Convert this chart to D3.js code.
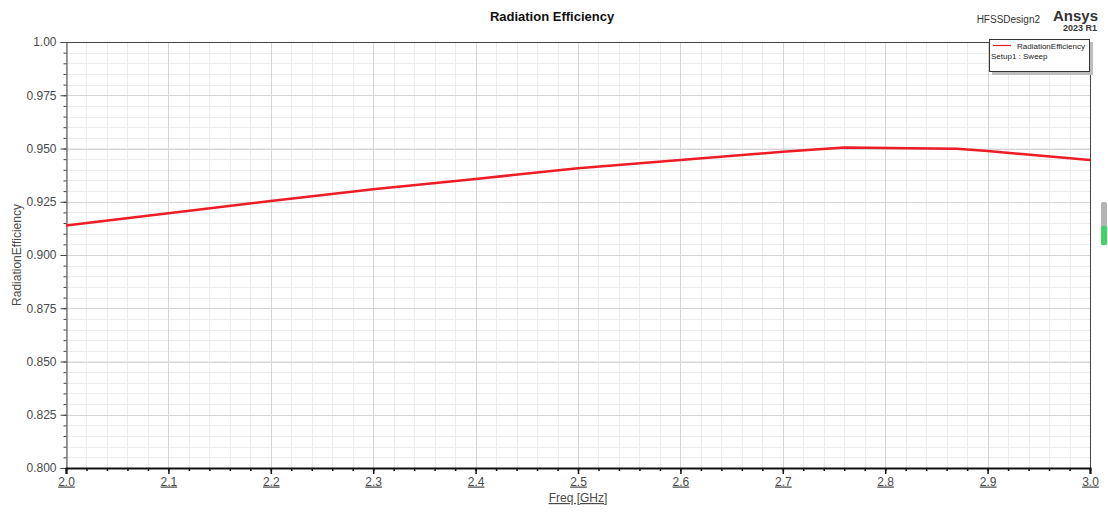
<!DOCTYPE html>
<html>
<head>
<meta charset="utf-8">
<title>Radiation Efficiency</title>
<script src="https://cdn.jsdelivr.net/npm/d3@7"></script>
<style>
	body { margin: 0; background: #ffffff; }
	text { font-family: "Liberation Sans", Arial, sans-serif; }
</style>
</head>
<body>
<div id="chart"></div>
<script>
//------------------------------------------------------------------------------
// Data
//------------------------------------------------------------------------------

var freq_ghz = [2.0, 2.1, 2.2, 2.3, 2.4, 2.5, 2.6, 2.7, 2.76, 2.87, 2.9, 3.0];
var rad_eff  = [0.9138, 0.9196, 0.9254, 0.9309, 0.9357, 0.9407, 0.9446, 0.9485, 0.9505, 0.9499, 0.9488, 0.9446];

var x_ticks = [2.0, 2.1, 2.2, 2.3, 2.4, 2.5, 2.6, 2.7, 2.8, 2.9, 3.0];
var y_ticks = [0.800, 0.825, 0.850, 0.875, 0.900, 0.925, 0.950, 0.975, 1.00];
var y_tick_labels = ["0.800", "0.825", "0.850", "0.875", "0.900", "0.925", "0.950", "0.975", "1.00"];

var series_name = "RadiationEfficiency";
var setup_name = "Setup1 : Sweep";


//------------------------------------------------------------------------------
// Plotting
//------------------------------------------------------------------------------

function plot_chart() {
	var width = 1108, height = 512;
	var left = 66, right = 1090, top = 42, bottom = 468;

	var svg = d3.select("#chart")
		.append("svg")
		.attr("width", width)
		.attr("height", height);

	svg.append("rect")
		.attr("width", width)
		.attr("height", height)
		.attr("fill", "#ffffff");

	var xscale = d3.scaleLinear().domain([2.0, 3.0]).range([left, right]);
	var yscale = d3.scaleLinear().domain([0.8, 1.0]).range([bottom, top]);

	// minor / major grid
	var x_minor = d3.range(0, 51).map(function(i) { return 2.0 + i * 0.02; });
	var y_minor = d3.range(0, 41).map(function(i) { return 0.8 + i * 0.005; });

	var grid = svg.append("g");
	grid.selectAll(".xm").data(x_minor).enter().append("line")
		.attr("x1", function(d) { return Math.round(xscale(d)) + 0.5; })
		.attr("x2", function(d) { return Math.round(xscale(d)) + 0.5; })
		.attr("y1", top).attr("y2", bottom)
		.attr("stroke", "#ececec");
	grid.selectAll(".ym").data(y_minor).enter().append("line")
		.attr("y1", function(d) { return Math.round(yscale(d)) + 0.5; })
		.attr("y2", function(d) { return Math.round(yscale(d)) + 0.5; })
		.attr("x1", left).attr("x2", right)
		.attr("stroke", "#ececec");
	grid.selectAll(".xM").data(x_ticks).enter().append("line")
		.attr("x1", function(d) { return Math.round(xscale(d)) + 0.5; })
		.attr("x2", function(d) { return Math.round(xscale(d)) + 0.5; })
		.attr("y1", top).attr("y2", bottom)
		.attr("stroke", "#d6d6d6");
	grid.selectAll(".yM").data(y_ticks).enter().append("line")
		.attr("y1", function(d) { return Math.round(yscale(d)) + 0.5; })
		.attr("y2", function(d) { return Math.round(yscale(d)) + 0.5; })
		.attr("x1", left).attr("x2", right)
		.attr("stroke", "#d6d6d6");

	// frame
	svg.append("line").attr("x1", left).attr("x2", right + 1)
		.attr("y1", top + 0.5).attr("y2", top + 0.5).attr("stroke", "#444");
	svg.append("line").attr("x1", right + 0.5).attr("x2", right + 0.5)
		.attr("y1", top).attr("y2", bottom).attr("stroke", "#444");

	// y axis
	var y_axis = d3.axisLeft(yscale)
		.tickValues(y_ticks)
		.tickFormat(function(d, i) { return y_tick_labels[i]; })
		.tickSize(6)
		.tickPadding(4);
	var gy = svg.append("g")
		.attr("transform", "translate(" + (left + 0.5) + ",0)")
		.call(y_axis);
	gy.select(".domain").attr("stroke", "#444");
	gy.selectAll(".tick line").attr("stroke", "#444");
	gy.selectAll(".tick text")
		.attr("fill", "#4a4a4a")
		.style("font-size", "12px")
		.style("font-family", "'Liberation Sans', Arial, sans-serif");
	var y_minor_axis = d3.axisLeft(yscale).tickValues(y_minor).tickSize(3).tickFormat("");
	var gym = svg.append("g")
		.attr("transform", "translate(" + (left + 0.5) + ",0)")
		.call(y_minor_axis);
	gym.select(".domain").remove();
	gym.selectAll(".tick line").attr("stroke", "#444");

	// x axis
	var x_axis = d3.axisBottom(xscale)
		.tickValues(x_ticks)
		.tickFormat(d3.format(".1f"))
		.tickSize(6)
		.tickPadding(3);
	var gx = svg.append("g")
		.attr("transform", "translate(0," + bottom + ")")
		.call(x_axis);
	gx.select(".domain").attr("stroke", "#111").attr("stroke-width", 2);
	gx.selectAll(".tick line").attr("stroke", "#111").attr("stroke-width", 1.5);
	gx.selectAll(".tick text")
		.attr("fill", "#4a4a4a")
		.style("font-size", "12px")
		.style("text-decoration", "underline")
		.style("font-family", "'Liberation Sans', Arial, sans-serif");
	var x_minor_axis = d3.axisBottom(xscale).tickValues(x_minor).tickSize(3).tickFormat("");
	var gxm = svg.append("g")
		.attr("transform", "translate(0," + bottom + ")")
		.call(x_minor_axis);
	gxm.select(".domain").remove();
	gxm.selectAll(".tick line").attr("stroke", "#111").attr("stroke-width", 1.5);

	// curve
	var line = d3.line()
		.x(function(d, i) { return xscale(freq_ghz[i]); })
		.y(function(d) { return yscale(d); });
	svg.append("path")
		.datum(rad_eff)
		.attr("d", line)
		.attr("fill", "none")
		.attr("stroke", "#ee1c25")
		.attr("stroke-width", 2.5)
		.attr("stroke-linejoin", "round");

	// titles
	svg.append("text")
		.attr("x", 552).attr("y", 21)
		.attr("text-anchor", "middle")
		.attr("fill", "#111")
		.style("font-size", "13px")
		.style("font-weight", "bold")
		.text("Radiation Efficiency");

	svg.append("text")
		.attr("x", 578).attr("y", 502)
		.attr("text-anchor", "middle")
		.attr("fill", "#4a4a4a")
		.style("font-size", "12px")
		.style("text-decoration", "underline")
		.text("Freq [GHz]");

	svg.append("text")
		.attr("transform", "translate(21," + ((top + bottom) / 2) + ") rotate(-90)")
		.attr("text-anchor", "middle")
		.attr("fill", "#4a4a4a")
		.style("font-size", "12px")
		.text(series_name);

	// branding
	svg.append("text")
		.attr("x", 1040).attr("y", 23)
		.attr("text-anchor", "end")
		.attr("fill", "#333")
		.style("font-size", "10px")
		.text("HFSSDesign2");
	svg.append("text")
		.attr("x", 1098).attr("y", 21)
		.attr("text-anchor", "end")
		.attr("fill", "#333")
		.style("font-size", "15px")
		.style("font-weight", "bold")
		.text("Ansys");
	svg.append("text")
		.attr("x", 1097).attr("y", 31)
		.attr("text-anchor", "end")
		.attr("fill", "#333")
		.style("font-size", "9px")
		.style("font-weight", "bold")
		.text("2023 R1");

	// legend
	var lg = svg.append("g").attr("transform", "translate(989,39)");
	lg.append("rect").attr("x", 3).attr("y", 3).attr("width", 101).attr("height", 33)
		.attr("fill", "#bdbdbd");
	lg.append("rect").attr("x", 0.5).attr("y", 0.5).attr("width", 100).attr("height", 32)
		.attr("fill", "#ffffff").attr("stroke", "#333");
	lg.append("line").attr("x1", 4).attr("x2", 22).attr("y1", 6.5).attr("y2", 6.5)
		.attr("stroke", "#ee1c25").attr("stroke-width", 1.2);
	lg.append("text").attr("x", 28).attr("y", 9.5)
		.attr("fill", "#222").style("font-size", "8px").text(series_name);
	lg.append("text").attr("x", 2).attr("y", 19.5)
		.attr("fill", "#222").style("font-size", "8px").text(setup_name);

	// scroll marker at right edge
	svg.append("rect").attr("x", 1101).attr("y", 202).attr("width", 6).attr("height", 43)
		.attr("rx", 2).attr("fill", "#b4b4b4");
	svg.append("rect").attr("x", 1101).attr("y", 226).attr("width", 6).attr("height", 19)
		.attr("rx", 2).attr("fill", "#3ed466");
}


//------------------------------------------------------------------------------
// Main
//------------------------------------------------------------------------------

function main() {
	plot_chart();
}

window.addEventListener('load', main, false);
</script>
</body>
</html>
